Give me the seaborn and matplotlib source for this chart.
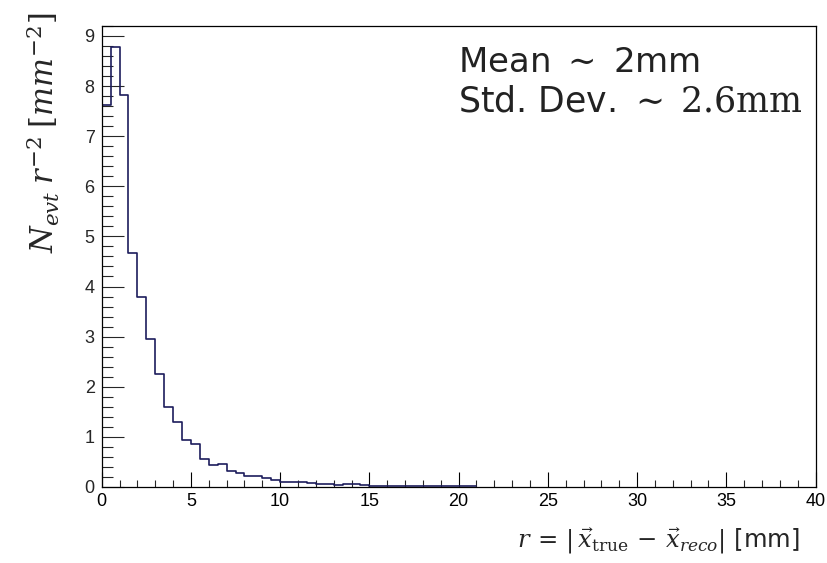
import numpy as np
import pandas as pd
import matplotlib
matplotlib.use("Agg")
import matplotlib.pyplot as plt
import seaborn as sns
from matplotlib.ticker import MultipleLocator

# ---- data (histogram, bin width 0.5 mm starting at 0) ----
bin_start = 0.0
bin_width = 0.5
counts = [7.62, 8.77, 7.82, 4.67, 3.80, 2.96, 2.25, 1.59, 1.30, 0.94,
          0.85, 0.55, 0.44, 0.46, 0.31, 0.27, 0.22, 0.22, 0.17, 0.13,
          0.09, 0.10, 0.10, 0.08, 0.05, 0.05, 0.03, 0.05, 0.05, 0.03,
          0.02, 0.02, 0.02, 0.02, 0.02, 0.02, 0.02, 0.02, 0.02, 0.02,
          0.02, 0.02]
x_ticks = [0, 5, 10, 15, 20, 25, 30, 35, 40]
y_ticks = [0, 1, 2, 3, 4, 5, 6, 7, 8, 9]
stats_lines = ["Mean $\\sim$ 2mm", "Std. Dev. $\\sim\\;2.6\\mathrm{mm}$"]

n = len(counts)
centers = bin_start + bin_width * (np.arange(n) + 0.5)
df = pd.DataFrame({"r": centers, "w": counts})

sns.set_theme(style="ticks")
plt.rcParams["font.family"] = ["DejaVu Sans"]
plt.rcParams["mathtext.fontset"] = "dejavuserif"

fig = plt.figure(figsize=(8.28, 5.63), dpi=100)
ax = fig.add_axes([0.1228, 0.135, 0.985 - 0.1228, 0.954 - 0.135])

sns.histplot(data=df, x="r", weights="w", binwidth=bin_width,
             binrange=(bin_start, bin_start + n * bin_width), element="step",
             fill=False, color="#1c1c5c", linewidth=1.2, ax=ax)

ax.set_xlim(0, 40)
ax.set_ylim(0, 9.2)
ax.set_xticks(x_ticks)
ax.set_yticks(y_ticks)
ax.xaxis.set_minor_locator(MultipleLocator(1))
ax.yaxis.set_minor_locator(MultipleLocator(0.2))
for lab in ax.get_xticklabels() + ax.get_yticklabels():
    lab.set_fontfamily("Liberation Sans")
    lab.set_fontsize(13)
ax.tick_params(axis="x", which="major", direction="in", length=10.5, width=0.8, pad=4, colors="black")
ax.tick_params(axis="x", which="minor", direction="in", length=5.2, width=0.8)
ax.tick_params(axis="y", which="major", direction="in", length=15.5, width=0.8, pad=5)
ax.tick_params(axis="y", which="minor", direction="in", length=7.7, width=0.8)
ax.tick_params(top=False, right=False, which="both")
for s in ax.spines.values():
    s.set_visible(True)
    s.set_linewidth(0.9)
    s.set_color("black")

ax.set_ylabel("$N_{evt}\\;r^{-2}\\;[mm^{-2}]$", fontsize=22, loc="top")
ax.yaxis.set_label_coords(-0.055, 1.03)
ax.set_xlabel("$r\\,=\\,|\\,\\vec{x}_{\\mathrm{true}}\\,-\\,\\vec{x}_{reco}|$ [mm]",
              fontsize=17.5, loc="right")
ax.xaxis.set_label_coords(0.978, -0.082)

ax.text(0.499, 0.900, stats_lines[0], transform=ax.transAxes, fontsize=24.5,
        va="baseline", ha="left", color="#222222")
ax.text(0.499, 0.815, stats_lines[1], transform=ax.transAxes, fontsize=25,
        va="baseline", ha="left", color="#222222")

fig.savefig("out.png", dpi=100, facecolor="white")
